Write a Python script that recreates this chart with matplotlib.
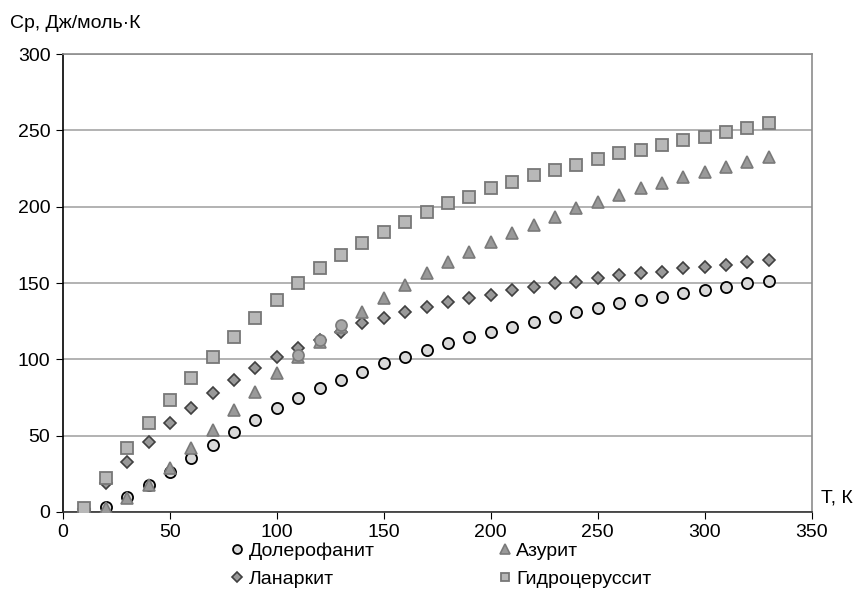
import matplotlib.pyplot as plt
import numpy as np

plt.rcParams['font.family'] = ['Liberation Sans', 'DejaVu Sans']

T = np.arange(10, 340, 10)

dolerofanit = [1, 3.5, 9.6, 18, 26.4, 35.2, 43.9, 52.6, 60.2, 67.9, 74.5, 81, 86.4,
               91.9, 97.4, 101.5, 106, 110.5, 114.8, 118, 121.4, 124.6, 127.9, 131.2,
               133.4, 136.7, 138.8, 141, 143.2, 145.4, 147.5, 149.8, 151.5]
azurit = [1, 2.4, 9, 17.7, 28.6, 41.7, 53.7, 66.8, 78.8, 90.8, 101.7, 111.5, 121,
          131.2, 140, 148.7, 156.3, 163.9, 170.5, 177, 182.5, 188, 193.4, 198.9,
          203.2, 207.6, 212, 215.3, 219.6, 222.9, 226.1, 229.4, 232.7]
lanarkit = [2, 18.8, 33, 46, 58.1, 67.9, 77.7, 86.4, 94.1, 101.7, 107.2, 112.6, 118.1,
            123.6, 126.8, 131.2, 134.5, 137.7, 140, 142.1, 145.4, 147.5, 149.8, 150.8,
            153, 155.2, 156.3, 157.4, 159.6, 160.6, 161.8, 163.9, 165]
gidrocerussit = [2.4, 22, 41.7, 58, 73.3, 87.5, 101.7, 114.8, 126.8, 138.8, 149.8,
                 159.6, 168.3, 176, 183.6, 190.1, 196.7, 202.2, 206.5, 212, 216.3,
                 220.5, 224, 227, 231.4, 234.9, 237, 240.3, 243.6, 245.8, 249, 251.3,
                 254.5]
# extra points without a legend entry
extra_T = [110, 120, 130]
extra_C = [102.8, 112.6, 122.5]

fig = plt.figure(figsize=(8.58, 6.09), dpi=100)
ax = fig.add_axes([0.0734, 0.1593, 0.8726, 0.752])

l1, = ax.plot(T, dolerofanit, 'o', ms=8, mfc='#d9d9d9', mec='black', mew=1.3, zorder=3)
l3, = ax.plot(T, lanarkit, 'D', ms=6.5, mfc='#999999', mec='#404040', mew=1.2, zorder=4)
l2, = ax.plot(T, azurit, '^', ms=9, mfc='#999999', mec='#7a7a7a', mew=1.2, zorder=5)
l4, = ax.plot(T, gidrocerussit, 's', ms=8, mfc='#b8b8b8', mec='#777777', mew=1.3, zorder=6)
ax.plot(extra_T, extra_C, 'o', ms=8, mfc='#a6a6a6', mec='#7a7a7a', mew=1.2, zorder=7)

ax.set_xlim(0, 350)
ax.set_ylim(0, 300)
ax.set_xticks(np.arange(0, 351, 50))
ax.set_yticks(np.arange(0, 301, 50))
ax.yaxis.grid(True, color='#a6a6a6', linewidth=1.2)
ax.set_axisbelow(True)
ax.tick_params(labelsize=14, length=5, direction='out', color='black', pad=4)

ax.spines['left'].set_color('black')
ax.spines['bottom'].set_color('#333333')
ax.spines['top'].set_color('#8c8c8c')
ax.spines['right'].set_color('#8c8c8c')
for s in ax.spines.values():
    s.set_linewidth(1.2)

fig.text(0.012, 0.962, 'Ср, Дж/моль·К', fontsize=14, va='center', ha='left')
fig.text(0.957, 0.182, 'Т, К', fontsize=14, va='center', ha='left')

fig.legend([l1, l3, l2, l4], ['Долерофанит', 'Ланаркит', 'Азурит', 'Гидроцеруссит'],
           ncol=2, loc='center', bbox_to_anchor=(0.512, 0.072), frameon=False,
           fontsize=14, handletextpad=0.1, columnspacing=6.2, markerscale=0.8,
           handlelength=1.0, labelspacing=0.5, borderpad=0.1)

fig.savefig('out.png', dpi=100)
